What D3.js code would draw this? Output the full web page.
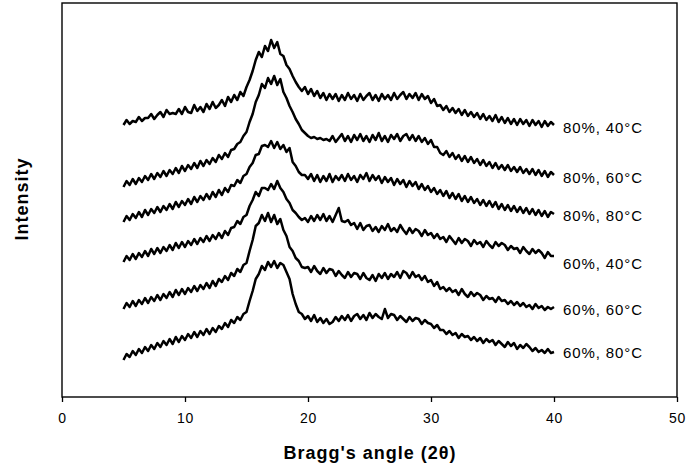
<!doctype html>
<html>
<head>
<meta charset="utf-8">
<title>XRD patterns</title>
<script src="https://cdnjs.cloudflare.com/ajax/libs/d3/7.8.5/d3.min.js"></script>
<style>
  body { margin: 0; background: #fff; }
  svg { display: block; font-family: "Liberation Sans", Arial, sans-serif; }
  .frame { fill: none; stroke: #000; stroke-width: 1.4; }
  .axis path { display: none; }
  .axis line { stroke: #000; stroke-width: 1.3; }
  .axis text { font-size: 14px; fill: #000; letter-spacing: 0.6px; }
  .pattern { fill: none; stroke: #000; stroke-width: 2.5; stroke-linejoin: round; }
  .lbl { font-size: 15px; letter-spacing: 0.9px; }
  .title { font-size: 18px; font-weight: bold; letter-spacing: 1px; }
</style>
</head>
<body>
<svg width="687" height="474"></svg>
<script>
// 2θ sampling grid: 5° to 40° every 0.25°
var angles = d3.range(0, 141).map(function(i) { return 5 + i * 0.25; });

var labels = ["80%, 40°C", "80%, 60°C", "80%, 80°C", "60%, 40°C", "60%, 60°C", "60%, 80°C"];
var labelShift = [3, 3, 2, 8, 3, 1];
var xTicks = [0, 10, 20, 30, 40, 50];

// intensities (a.u., stacked as in the figure), one row per degree
var s80_40 = [
272,277,273,276, 275,280,276,279, 279,283,278,282, 285,280,287,283, 284,283,288,283,
290,285,284,292, 286,290,285,293, 288,295,289,292, 297,291,300,295, 302,297,305,301,
310,317,326,337, 345,340,351,346, 357,349,355,343, 341,332,328,321, 315,310,306,310,
303,308,301,306, 299,304,297,303, 298,303,296,302, 297,304,298,302, 296,303,297,301,
304,297,302,296, 303,298,302,297, 304,298,302,305, 298,303,299,304, 297,303,298,301,
294,298,291,292, 287,291,285,289, 284,288,282,287, 281,285,280,284, 278,283,277,281,
276,282,275,280, 274,279,273,278, 272,278,273,277, 271,277,272,276, 270,276,271,275,
272];
var s80_60 = [
210,216,212,218, 213,219,215,221, 217,223,218,224, 220,226,221,227, 223,229,224,231,
226,232,228,234, 229,236,231,237, 233,239,235,242, 238,244,240,247, 248,253,255,261,
265,275,283,295, 302,313,309,319, 313,321,312,318, 305,299,291,285, 278,273,267,264,
261,259,260,258, 259,257,258,256, 261,255,259,263, 256,261,255,262, 257,263,256,261,
255,262,257,264, 256,261,255,262, 258,263,256,261, 263,257,262,256, 261,255,259,253,
257,250,250,244, 242,246,240,244, 238,242,236,241, 235,240,234,238, 232,237,231,235,
229,234,228,232, 227,232,226,230, 225,230,224,228, 223,228,222,227, 221,226,220,225,
222];
var s80_80 = [
175,181,177,183, 179,185,180,187, 182,188,184,190, 185,191,187,193, 188,195,190,196,
192,198,193,200, 195,201,197,203, 198,205,200,207, 202,209,205,212, 211,217,214,221,
223,230,234,242, 243,251,252,250, 256,249,255,248, 252,245,249,235, 231,225,222,222,
218,223,216,222, 215,221,216,223, 215,221,217,222, 216,223,217,221, 215,222,218,224,
216,222,217,221, 214,220,215,219, 212,218,213,217, 210,216,211,215, 208,213,207,211,
205,209,203,207, 201,206,199,204, 198,203,196,201, 195,200,194,198, 192,197,191,196,
190,195,188,193, 187,192,186,191, 185,190,184,189, 183,188,182,187, 181,186,180,185,
183];
var s60_40 = [
135,141,137,143, 138,144,140,146, 141,148,143,149, 144,150,146,152, 147,154,149,155,
150,156,152,158, 153,159,155,161, 156,162,158,164, 159,166,162,169, 170,176,173,180,
182,191,197,205, 201,209,209,207, 213,208,216,209, 205,198,194,187, 184,180,177,179,
175,181,176,182, 177,183,176,181, 175,182,189,176, 175,177,172,174, 168,174,167,171,
172,166,170,165, 171,167,173,166, 169,165,172,167, 163,169,164,168, 166,161,167,162,
164,159,163,158, 160,155,161,157, 153,159,154,158, 156,151,157,153, 155,150,156,152,
149,155,151,154, 152,147,151,148, 149,144,150,146, 143,148,144,147, 144,139,145,141,
141];
var s60_60 = [
88,94,90,96, 91,97,93,99, 94,100,96,102, 97,103,99,105, 100,107,102,108,
103,109,105,111, 106,112,108,114, 109,116,111,118, 115,121,117,124, 121,128,125,132,
134,146,157,171, 174,182,176,184, 175,182,173,178, 167,161,150,146, 139,136,130,129,
130,125,131,126, 123,129,124,128, 127,121,126,122, 119,125,120,124, 123,118,124,119,
117,122,116,123, 119,124,118,123, 120,125,119,126, 124,119,125,120, 122,117,121,115,
117,111,115,108, 110,106,109,105, 107,102,108,103, 100,105,101,104, 102,97,101,98,
99,95,100,96, 97,93,96,92, 95,91,94,90, 92,88,93,89, 91,87,90,88,
90];
var s60_80 = [
37,43,40,46, 42,48,44,50, 46,52,48,54, 50,56,52,58, 53,60,55,61,
57,63,59,65, 60,66,62,68, 63,69,65,71, 68,74,70,77, 74,80,77,83,
85,96,106,118, 123,131,127,135, 130,136,129,134, 132,125,118,103, 93,85,83,78,
81,76,82,75, 79,74,78,73, 75,80,76,81, 77,82,76,81, 83,78,82,77,
84,79,83,80, 78,88,79,83, 82,77,81,78, 75,80,76,79, 78,73,77,74,
73,69,72,67, 67,63,66,62, 64,59,63,60, 61,57,60,56, 59,54,58,55,
57,52,56,53, 50,55,51,54, 48,52,49,53, 50,46,49,45, 47,44,48,44,
45];

var series = [s80_40, s80_60, s80_80, s60_40, s60_60, s60_80];

var svg = d3.select("svg");
var x = d3.scaleLinear().domain([0, 50]).range([62, 677]);
var y = d3.scaleLinear().domain([0, 394]).range([397, 3]);

svg.append("rect").attr("class", "frame")
  .attr("x", x(0)).attr("y", y(394))
  .attr("width", x(50) - x(0)).attr("height", y(0) - y(394));

svg.append("g").attr("class", "axis")
  .attr("transform", "translate(0," + y(0) + ")")
  .call(d3.axisBottom(x).tickValues(xTicks).tickSize(5).tickPadding(11).tickFormat(d3.format("d")));

var line = d3.line()
  .x(function(d, i) { return x(angles[i]); })
  .y(function(d) { return y(d); });

svg.selectAll("path.pattern").data(series)
  .enter()
  .append("path")
    .attr("class", "pattern")
    .attr("d", line);

svg.selectAll("text.lbl").data(series)
  .enter()
  .append("text")
    .attr("class", "lbl")
    .attr("x", x(40) + 9)
    .attr("y", function(d, i) { return y(d[d.length - 1]) + labelShift[i]; })
    .attr("dy", "0.35em")
    .text(function(d, i) { return labels[i]; });

svg.append("text").attr("class", "title")
  .attr("x", 370).attr("y", 459)
  .attr("text-anchor", "middle")
  .text("Bragg's angle (2θ)");

svg.append("text").attr("class", "title")
  .attr("transform", "translate(28,199) rotate(-90)")
  .attr("text-anchor", "middle")
  .text("Intensity");
</script>
</body>
</html>
